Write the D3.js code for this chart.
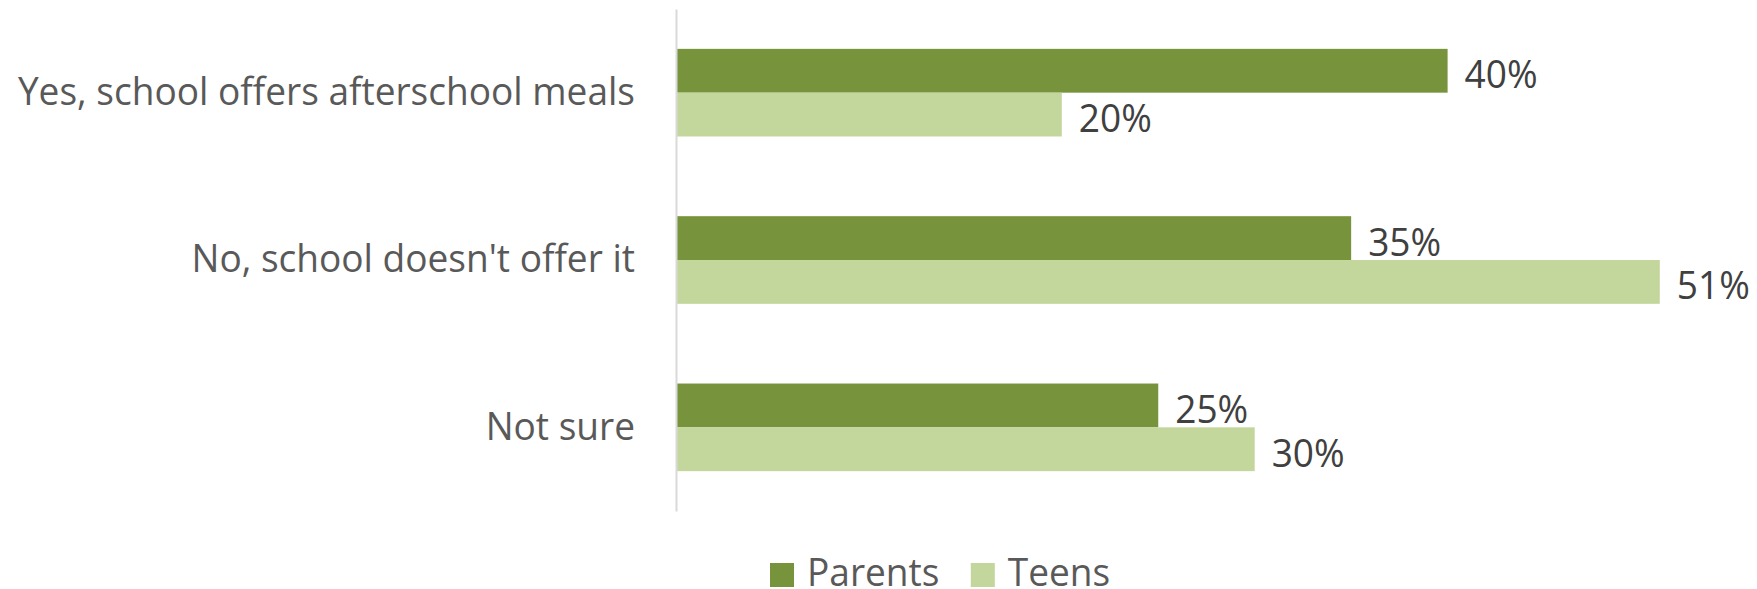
<!DOCTYPE html>
<html>
<head>
<meta charset="utf-8">
<script src="https://cdn.jsdelivr.net/npm/d3@7"></script>
<style>
  html, body { margin: 0; padding: 0; background: #ffffff; }
  svg { display: block; }
  text { font-family: "Open Sans", "Noto Sans", sans-serif; }
</style>
</head>
<body>
<svg id="chart" width="1757" height="589"></svg>
<script>
// Survey answers: does the school offer afterschool meals?
const categories = ["Yes, school offers afterschool meals", "No, school doesn't offer it", "Not sure"];
const seriesNames = ["Parents", "Teens"];
const parentsValues = [0.40, 0.35, 0.25];
const teensValues = [0.20, 0.51, 0.30];
const seriesValues = [parentsValues, teensValues];
const seriesColors = ["#77933C", "#C3D69B"];

const svg = d3.select("#chart");
const fontSize = 39;
const condense = 0.95; // narrows the glyphs horizontally

function narrow(sel) {
  sel.each(function () {
    const len = this.getComputedTextLength();
    d3.select(this).attr("textLength", len * condense).attr("lengthAdjust", "spacingAndGlyphs");
  });
}

const x = d3.scaleLinear().domain([0, 0.5]).range([676, 1640.5]);
const y = d3.scaleBand().domain(categories).range([9, 511])
  .paddingInner(0.4764).paddingOuter(0.4764 / 2);
const ySub = d3.scaleBand().domain(seriesNames).range([0, y.bandwidth()]);

// Bars
const groups = svg.append("g").selectAll("g")
  .data(categories)
  .join("g")
  .attr("transform", d => `translate(0,${y(d)})`);

groups.each(function (cat, ci) {
  const g = d3.select(this);
  const rows = seriesNames.map((s, si) => ({ s, si, v: seriesValues[si][ci] }));
  g.selectAll("rect")
    .data(rows)
    .join("rect")
    .attr("x", x(0))
    .attr("y", d => ySub(d.s))
    .attr("width", d => x(d.v) - x(0))
    .attr("height", ySub.bandwidth())
    .attr("fill", d => seriesColors[d.si]);
  g.selectAll("text.val")
    .data(rows)
    .join("text")
    .attr("class", "val")
    .attr("x", d => x(d.v) + 17)
    .attr("y", d => ySub(d.s) + ySub.bandwidth() / 2 + 2)
    .attr("dominant-baseline", "central")
    .attr("font-size", fontSize)
    .attr("fill", "#404040")
    .text(d => d3.format(".0%")(d.v))
    .call(narrow);
});

// Category axis
const axis = svg.append("g")
  .attr("transform", `translate(${x(0)},0)`)
  .call(d3.axisLeft(y).tickSize(0).tickSizeOuter(0).tickPadding(41));
axis.select(".domain").attr("stroke", "#D9D9D9").attr("stroke-width", 2);
axis.selectAll(".tick text")
  .attr("font-size", fontSize)
  .attr("font-family", "'Open Sans', 'Noto Sans', sans-serif")
  .attr("fill", "#595959")
  .attr("dy", "0.32em")
  .call(narrow);

// Legend
const legend = svg.append("g").attr("transform", "translate(770,0)");
let lx = 0;
seriesNames.forEach((name, i) => {
  legend.append("rect")
    .attr("x", lx).attr("y", 563)
    .attr("width", 24).attr("height", 24)
    .attr("fill", seriesColors[i]);
  const t = legend.append("text")
    .attr("x", lx + 37).attr("y", 586)
    .attr("font-size", fontSize)
    .attr("fill", "#595959")
    .text(name)
    .call(narrow);
  lx += 37 + t.node().getComputedTextLength() * condense + 38;
});
</script>
</body>
</html>
